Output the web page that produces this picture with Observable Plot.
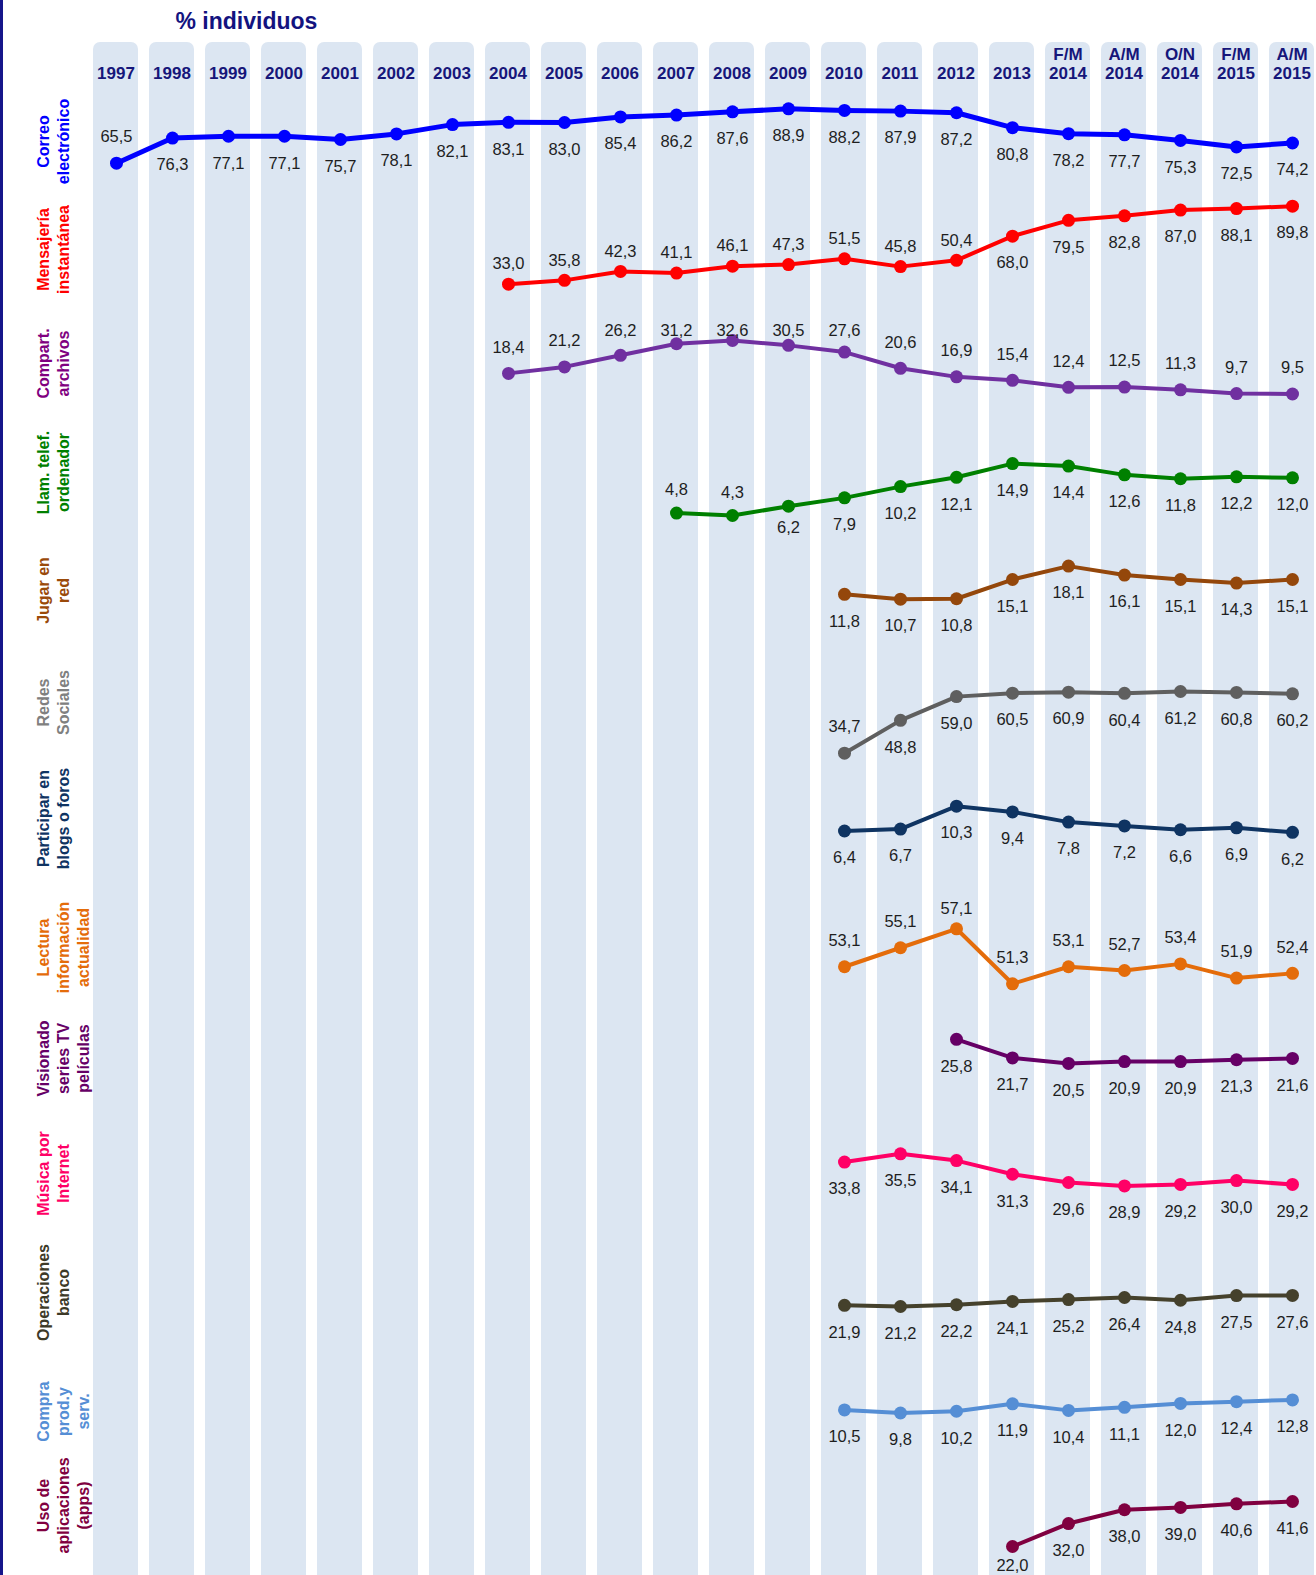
<!DOCTYPE html>
<html><head><meta charset="utf-8">
<script src="https://cdn.jsdelivr.net/npm/d3@7"></script>
<script src="https://cdn.jsdelivr.net/npm/@observablehq/plot@0.6"></script>
<style>
body{margin:0;background:#fff;}
#chart{position:relative;width:1316px;height:1575px;overflow:hidden;font-family:"Liberation Sans",Arial,sans-serif;background:#fff;}
#chart svg{position:absolute;left:0;overflow:visible;font-family:"Liberation Sans",Arial,sans-serif;}
#edge{position:absolute;left:0;top:0;width:3px;height:100%;background:#16168a;z-index:5;}
</style></head>
<body><div id="chart"><div id="edge"></div></div>
<script>
// ---- data ----
const periods = ["1997","1998","1999","2000","2001","2002","2003","2004","2005","2006","2007","2008","2009","2010","2011","2012","2013","F/M 2014","A/M 2014","O/N 2014","F/M 2015","A/M 2015"];
const seriesNames = ["Correo\nelectrónico","Mensajería\ninstantánea","Compart.\narchivos","Llam. telef.\nordenador","Jugar en\nred","Redes\nSociales","Participar en\nblogs o foros","Lectura\ninformación\nactualidad","Visionado\nseries TV\npelículas","Música por\nInternet","Operaciones\nbanco","Compra\nprod.y\nserv.","Uso de\naplicaciones\n(apps)"];
const seriesStart = ["1997","2004","2004","2007","2010","2010","2010","2010","2012","2010","2010","2010","2013"];
const correo = [65.5,76.3,77.1,77.1,75.7,78.1,82.1,83.1,83.0,85.4,86.2,87.6,88.9,88.2,87.9,87.2,80.8,78.2,77.7,75.3,72.5,74.2];
const mensajeria = [33.0,35.8,42.3,41.1,46.1,47.3,51.5,45.8,50.4,68.0,79.5,82.8,87.0,88.1,89.8];
const compartir = [18.4,21.2,26.2,31.2,32.6,30.5,27.6,20.6,16.9,15.4,12.4,12.5,11.3,9.7,9.5];
const llamadas = [4.8,4.3,6.2,7.9,10.2,12.1,14.9,14.4,12.6,11.8,12.2,12.0];
const jugar = [11.8,10.7,10.8,15.1,18.1,16.1,15.1,14.3,15.1];
const redes = [34.7,48.8,59.0,60.5,60.9,60.4,61.2,60.8,60.2];
const blogs = [6.4,6.7,10.3,9.4,7.8,7.2,6.6,6.9,6.2];
const lectura = [53.1,55.1,57.1,51.3,53.1,52.7,53.4,51.9,52.4];
const seriesTV = [25.8,21.7,20.5,20.9,20.9,21.3,21.6];
const musica = [33.8,35.5,34.1,31.3,29.6,28.9,29.2,30.0,29.2];
const banco = [21.9,21.2,22.2,24.1,25.2,26.4,24.8,27.5,27.6];
const compra = [10.5,9.8,10.2,11.9,10.4,11.1,12.0,12.4,12.8];
const apps = [22.0,32.0,38.0,39.0,40.6,41.6];
const seriesValues = [correo,mensajeria,compartir,llamadas,jugar,redes,blogs,lectura,seriesTV,musica,banco,compra,apps];

// ---- layout / style (per row) ----
const rows = [
  {center:141,  domain:[65.5,88.9], range:[162.7,108.3], above:1,  up:-26, color:"#0000ff", label:"#0000ff", sw:5},
  {center:249,  domain:[33,89.8],   range:[283.7,205.7], above:9,  up:-20, color:"#ff0000", label:"#ff0000", sw:4},
  {center:363,  domain:[9.5,32.6],  range:[393.5,340],   above:15, up:-26, color:"#7030a0", label:"#800080", sw:4, clampMin:330.5},
  {center:472,  domain:[4.3,14.9],  range:[515,463.1],   above:2,  up:-23, color:"#008000", label:"#008000", sw:4, clampMax:527},
  {center:590,  domain:[10.7,18.1], range:[598.7,565.6], above:0,  up:-26, color:"#94470b", label:"#9a4a0a", sw:4},
  {center:702,  domain:[34.7,61.2], range:[752.7,691],   above:1,  up:-26, color:"#5f5f5f", label:"#808080", sw:4},
  {center:818,  domain:[6.2,10.3],  range:[831.8,805.7], above:0,  up:-26, color:"#0f3462", label:"#0f3462", sw:4},
  {center:947,  domain:[51.3,57.1], range:[983.3,928.3], above:9,  up:-26, color:"#e46c0a", label:"#e46c0a", sw:4, clampMin:908},
  {center:1058, domain:[20.5,25.8], range:[1062.9,1038.8],above:0, up:-26, color:"#660066", label:"#660066", sw:4},
  {center:1173, domain:[28.9,35.5], range:[1185.4,1153.3],above:0, up:-26, color:"#ff0066", label:"#ff0066", sw:4},
  {center:1292, domain:[21.2,27.6], range:[1306,1294.9], above:0,  up:-26, color:"#45412c", label:"#3d3a28", sw:4},
  {center:1411, domain:[9.8,12.8],  range:[1412.5,1399.4],above:0, up:-26, color:"#558ed5", label:"#558ed5", sw:4},
  {center:1505, domain:[22,41.6],   range:[1546,1501],   above:0,  up:-26, color:"#800040", label:"#800040", sw:4, clampMax:1565}
];

const W = 1316;
const c0 = 111, c1 = 1296.5;
const step = (c1 - c0) / (periods.length - 1);
const bandRange = [c0 - 0.4*step, c0 - 0.4*step + step*(periods.length - 0.2)];
const fmt = v => v.toFixed(1).replace(".", ",");
const chart = document.getElementById("chart");

// ---- base: column bands, headers, title ----
const base = Plot.plot({
  width: W, height: 1600, marginTop: 42, marginBottom: 0, marginLeft: 0, marginRight: 0,
  style: {background: "transparent", overflow: "visible"},
  x: {type: "band", domain: periods, range: bandRange, paddingInner: 0.2, paddingOuter: 0, axis: null},
  y: {domain: [0, 1], range: [42, 1600], axis: null},
  marks: [
    Plot.barY(periods, {x: d => d, y1: d => 0, y2: d => 1, fill: "#dce6f2", rx: 7}),
    Plot.text(periods, {x: d => d, frameAnchor: "top", dy: 36, text: d => d.replace(" ", "\n"),
      lineAnchor: "bottom", fontSize: 17, fontWeight: "bold", fill: "#16167a", lineHeight: 1.08}),
    Plot.text(["% individuos"], {frameAnchor: "top-left", dx: 175, dy: -14, lineAnchor: "bottom",
      textAnchor: "start", fontSize: 23, fontWeight: "bold", fill: "#13137f"})
  ]
});
base.style.top = "0px";
chart.appendChild(base);

// ---- rows ----
const H = 160;
rows.forEach((r, i) => {
  const vals = seriesValues[i];
  const s = periods.indexOf(seriesStart[i]);
  const data = vals.map((v, j) => ({p: periods[s + j], v, j}));
  const top = r.center - H / 2;
  const ys = d3.scaleLinear(r.domain, r.range);
  const labelY = d => {
    let p = ys(d.v) + (d.j < r.above ? r.up : 27);
    if (r.clampMin != null) p = Math.max(p, r.clampMin);
    if (r.clampMax != null) p = Math.min(p, r.clampMax);
    return ys.invert(p);
  };
  const svg = Plot.plot({
    width: W, height: H, margin: 0,
    style: {background: "transparent", overflow: "visible"},
    x: {type: "point", domain: periods, range: [c0, c1], padding: 0, axis: null},
    y: {domain: r.domain, range: r.range.map(p => p - top), axis: null},
    marks: [
      Plot.line(data, {x: "p", y: "v", stroke: r.color, strokeWidth: r.sw, curve: "linear"}),
      Plot.dot(data, {x: "p", y: "v", r: 6.5, fill: r.color, stroke: "none"}),
      Plot.text(data, {x: "p", y: labelY, text: d => fmt(d.v), fontSize: 16.5, fill: "#1e1e1e"}),
      Plot.text([seriesNames[i]], {frameAnchor: "left", dx: 34, rotate: -90, lineAnchor: "top",
        textAnchor: "middle", fontSize: 16, fontWeight: "bold", fill: r.label, lineHeight: 1.25})
    ]
  });
  svg.style.top = top + "px";
  chart.appendChild(svg);
});
</script>
</body></html>
